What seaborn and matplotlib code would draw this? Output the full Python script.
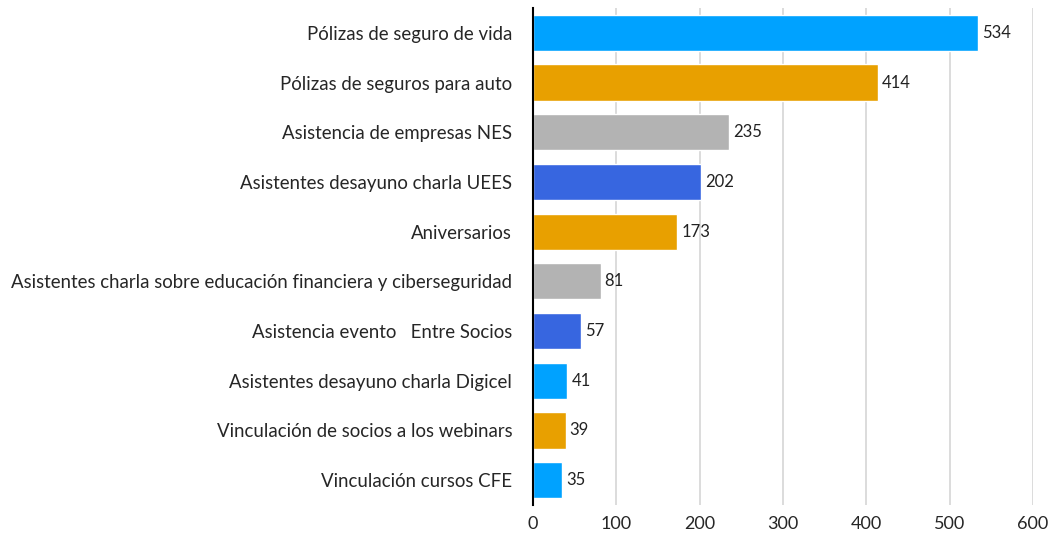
import matplotlib
matplotlib.use("Agg")
import matplotlib.pyplot as plt
import seaborn as sns
import pandas as pd

categories = [
    "Pólizas de seguro de vida",
    "Pólizas de seguros para auto",
    "Asistencia de empresas NES",
    "Asistentes desayuno charla UEES",
    "Aniversarios",
    "Asistentes charla sobre educación financiera y ciberseguridad",
    "Asistencia evento   Entre Socios",
    "Asistentes desayuno charla Digicel",
    "Vinculación de socios a los webinars",
    "Vinculación cursos CFE",
]
values = [534, 414, 235, 202, 173, 81, 57, 41, 39, 35]
bar_colors = ["#00A2FF", "#E8A000", "#B3B3B3", "#3766E0", "#E8A000",
              "#B3B3B3", "#3766E0", "#00A2FF", "#E8A000", "#00A2FF"]
x_ticks = [0, 100, 200, 300, 400, 500, 600]

sns.set_theme(style="white")
plt.rcParams["font.family"] = ["Lato", "DejaVu Sans"]

df = pd.DataFrame({"cat": categories, "val": values})

fig = plt.figure(figsize=(10.54, 5.33), dpi=100)
ax = fig.add_axes([0.5057, 0.0525, 0.4744, 0.9325])

sns.barplot(data=df, y="cat", x="val", hue="cat", palette=bar_colors,
            legend=False, width=0.73, ax=ax, saturation=1, orient="h")

ax.set_xlim(0, 600)
ax.set_xticks(x_ticks)
ax.set_xticklabels([str(t) for t in x_ticks], fontsize=13)
ax.tick_params(axis="y", labelsize=13.4, length=0, pad=15)
ax.tick_params(axis="x", length=0, pad=8)
ax.set_xlabel("")
ax.set_ylabel("")
ax.xaxis.grid(True, color="#D9D9D9", linewidth=1.3)
ax.set_axisbelow(True)
for s in ["top", "right", "bottom"]:
    ax.spines[s].set_visible(False)
ax.spines["left"].set_color("black")
ax.spines["left"].set_linewidth(1.5)

for i, v in enumerate(values):
    ax.text(v + 5, i, str(v), va="center", ha="left", fontsize=12, color="#222222")

fig.savefig("out.png", dpi=100)
